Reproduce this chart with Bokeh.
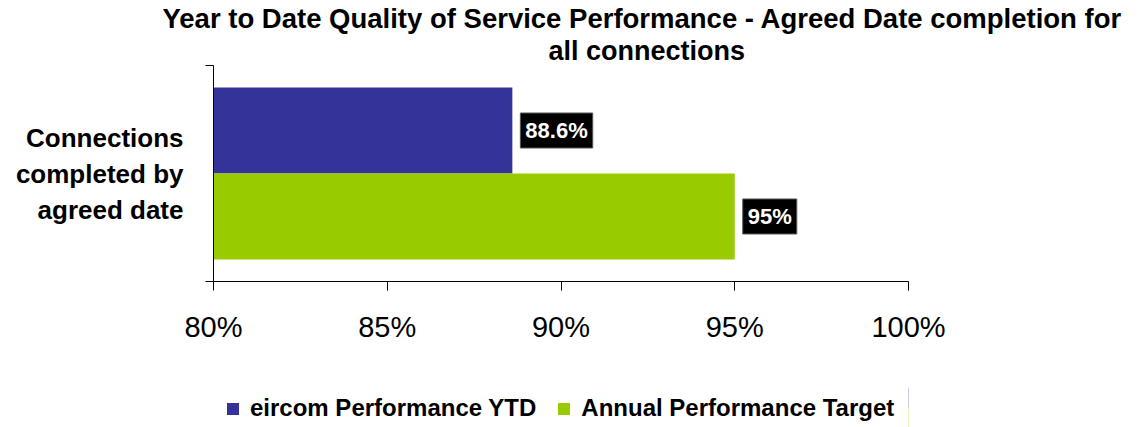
from bokeh.plotting import figure
from bokeh.layouts import column
from bokeh.models import (ColumnDataSource, Range1d, FixedTicker, Title, Legend, LegendItem)
from bokeh.core.properties import value
from bokeh.embed import file_html
from bokeh.resources import INLINE

# ---- data ----
series = ["eircom Performance YTD", "Annual Performance Target"]
values = [88.6, 95.0]
colors = ["#333399", "#99CC00"]
value_labels = ["88.6%", "95%"]
category_label = "Connections\ncompleted by\nagreed date"
x_ticks = [80, 85, 90, 95, 100]
x_tick_labels = ["80%", "85%", "90%", "95%", "100%"]
title_lines = ["Year to Date Quality of Service Performance - Agreed Date completion for",
               "all connections"]

FONT = "Liberation Sans"
W, H_MAIN, H_LEG = 1147, 387, 40

n = len(series)
ypos = [n - 1 - i for i in range(n)]          # first series on top
pad = 0.756
y_start, y_end = -pad, (n - 1) + pad
y_mid = (y_start + y_end) / 2

src = ColumnDataSource(dict(series=series, values=values, colors=colors,
                            labels=value_labels, y=ypos))

p = figure(width=W, height=H_MAIN, output_backend="svg", toolbar_location=None,
           x_range=Range1d(x_ticks[0], x_ticks[-1]),
           y_range=Range1d(y_start, y_end),
           min_border_left=213, min_border_right=239, min_border_top=62, min_border_bottom=106)
p.title.visible = False
p.outline_line_color = None
p.xgrid.visible = False
p.ygrid.visible = False
p.background_fill_color = "white"
p.border_fill_color = "white"

bars = p.hbar(y="y", right="values", left=x_ticks[0], height=1.0, source=src,
              fill_color="colors", line_color=None)

p.text(x="values", y="y", text="labels", source=src, x_offset=8,
       text_align="left", text_baseline="middle", text_color="white",
       text_font=value(FONT), text_font_style="bold", text_font_size="22px",
       background_fill_color="black", border_line_color="#555555", padding=5)

# x axis
xa = p.xaxis[0]
xa.ticker = FixedTicker(ticks=x_ticks)
xa.major_label_overrides = {t: l for t, l in zip(x_ticks, x_tick_labels)}
xa.major_tick_out = 9
xa.major_tick_in = 0
xa.minor_tick_line_color = None
xa.major_label_standoff = 20
xa.major_label_text_font = FONT
xa.major_label_text_font_size = "29px"
xa.major_label_text_color = "black"
xa.axis_line_color = "black"
xa.major_tick_line_color = "black"

# left axis: line with ticks at the category boundaries, category name in the middle
ya = p.yaxis[0]
ya.ticker = FixedTicker(ticks=[y_mid], minor_ticks=[y_start, y_end])
ya.major_label_overrides = {y_mid: category_label}
ya.major_label_text_font = FONT
ya.major_label_text_font_size = "26px"
ya.major_label_text_font_style = "bold"
ya.major_label_text_color = "black"
ya.major_label_text_align = "center"
ya.major_label_text_line_height = 1.2
ya.major_label_standoff = 22
ya.major_tick_out = 0
ya.major_tick_in = 0
ya.minor_tick_out = 8
ya.minor_tick_in = 0
ya.axis_line_color = "black"
ya.minor_tick_line_color = "black"

# title (two lines, stacked above the frame; first added sits closest to the frame)
p.add_layout(Title(text=title_lines[1], align="left", offset=335, standoff=0,
                   text_font=FONT, text_font_size="27px", text_font_style="bold",
                   text_color="black", text_line_height=1.0), "above")
p.add_layout(Title(text=title_lines[0], align="left", offset=-51, standoff=0,
                   text_font=FONT, text_font_size="27.5px", text_font_style="bold",
                   text_color="black", text_line_height=1.0), "above")

# ---- legend strip (own small figure, below the chart) ----
lg = figure(width=W, height=H_LEG, output_backend="svg", toolbar_location=None,
            x_range=Range1d(0, 1), y_range=Range1d(0, 1),
            x_axis_location=None, y_axis_location=None,
            min_border=0, min_border_left=0, min_border_right=0,
            min_border_top=0, min_border_bottom=0)
lg.title.visible = False
lg.outline_line_color = None
lg.xgrid.visible = False
lg.ygrid.visible = False
lg.background_fill_color = "white"
lg.border_fill_color = "white"
# same bars, drawn outside this strip's ranges: only their legend swatches show
lbars = lg.hbar(y="y", right="values", left=x_ticks[0], height=1.0, source=src,
                fill_color="colors", line_color=None)
legend = Legend(items=[LegendItem(label=series[i], renderers=[lbars], index=i) for i in range(n)],
                orientation="horizontal", location=(12, 5),
                glyph_width=15, glyph_height=15, label_standoff=10, spacing=20,
                padding=0, margin=0, border_line_alpha=0, background_fill_alpha=0,
                label_text_font=FONT, label_text_font_size="24px",
                label_text_font_style="bold", label_text_color="black")
lg.add_layout(legend)

open("out.html", "w").write(file_html(column(p, lg, spacing=0), INLINE))
